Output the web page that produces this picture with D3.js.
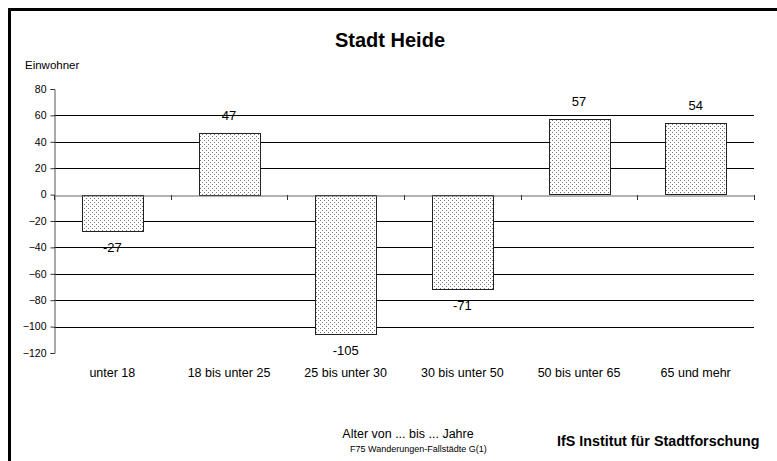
<!DOCTYPE html>
<html><head><meta charset="utf-8">
<script src="https://cdn.jsdelivr.net/npm/d3@7"></script>
<style>body{margin:0;background:#fff}svg{display:block;font-family:"Liberation Sans",Arial,sans-serif}</style>
</head><body>
<svg id="c" width="777" height="461"></svg>
<script>
const categories = ["unter 18","18 bis unter 25","25 bis unter 30","30 bis unter 50","50 bis unter 65","65 und mehr"];
const values = [-27, 47, -105, -71, 57, 54];
const yTicks = [80,60,40,20,0,-20,-40,-60,-80,-100,-120];
const gridValues = [60,40,20,-20,-40,-60,-80,-100];

const svg = d3.select("#c");
const defs = svg.append("defs");
const pat = defs.append("pattern").attr("id","dots").attr("patternUnits","userSpaceOnUse")
  .attr("width",4).attr("height",4);
pat.append("rect").attr("width",4).attr("height",4).attr("fill","#fff");
pat.append("rect").attr("x",0).attr("y",0).attr("width",1).attr("height",1).attr("fill","#777");
pat.append("rect").attr("x",2).attr("y",2).attr("width",1).attr("height",1).attr("fill","#777");

// frame
svg.append("path").attr("d","M9.5,780 V9.5 H790").attr("fill","none").attr("stroke","#000").attr("stroke-width",3);

const x = d3.scaleBand().domain(categories).range([54,754]).paddingInner(0.48).paddingOuter(0.24);
const xb = d3.scaleBand().domain(categories).range([54,754]);
const y = d3.scaleLinear().domain([-120,80]).range([353,89]);

// gridlines
svg.append("g").selectAll("line").data(gridValues).join("line")
  .attr("x1",54).attr("x2",754).attr("y1",d=>Math.round(y(d))+0.5).attr("y2",d=>Math.round(y(d))+0.5)
  .attr("stroke","#000").attr("stroke-width",1);

// y axis
const yAxis = d3.axisLeft(y).tickValues(yTicks).tickSize(4).tickPadding(4).tickFormat(d3.format("d"));
const gy = svg.append("g").attr("transform","translate(54.5,0)").call(yAxis);
gy.select(".domain").attr("stroke","#555");
gy.selectAll(".tick line").attr("stroke","#333");
gy.selectAll(".tick text").attr("font-size",10.5).attr("fill","#000").attr("font-family","Liberation Sans, Arial, sans-serif");

// bars
svg.append("g").selectAll("rect").data(values).join("rect")
  .attr("x",(d,i)=>Math.round(x(categories[i]))+0.5)
  .attr("width",Math.round(x.bandwidth()))
  .attr("y",d=>Math.round(y(Math.max(0,d)))+0.5)
  .attr("height",d=>Math.round(Math.abs(y(d)-y(0))))
  .attr("fill","url(#dots)").attr("stroke","#222").attr("stroke-width",1);

// x axis (zero line)
const xAxis = d3.axisBottom(xb).tickSize(0).tickFormat("");
const gx = svg.append("g").attr("transform",`translate(0,${Math.round(y(0))+0.5})`).call(xAxis);
gx.select(".domain").attr("stroke","#666");
svg.append("g").selectAll("line").data(d3.range(categories.length+1)).join("line")
  .attr("x1",i=>Math.round(54+i*xb.step())+0.5).attr("x2",i=>Math.round(54+i*xb.step())+0.5)
  .attr("y1",Math.round(y(0))).attr("y2",Math.round(y(0))+5).attr("stroke","#333");

// category labels
svg.append("g").selectAll("text").data(categories).join("text")
  .attr("x",d=>xb(d)+xb.bandwidth()/2).attr("y",377).attr("text-anchor","middle")
  .attr("font-size",12.5).text(d=>d);

// value labels
svg.append("g").selectAll("text").data(values).join("text")
  .attr("x",(d,i)=>x(categories[i])+x.bandwidth()/2)
  .attr("y",d=> d>=0 ? y(d)-13 : y(d)+22)
  .attr("text-anchor","middle").attr("font-size",13).text(d=>d);

// titles
svg.append("text").attr("x",390).attr("y",47).attr("text-anchor","middle")
  .attr("font-size",20).attr("font-weight","bold").text("Stadt Heide");
svg.append("text").attr("x",25).attr("y",69).attr("font-size",11.5).text("Einwohner");
svg.append("text").attr("x",408).attr("y",438).attr("text-anchor","middle").attr("font-size",12.5).text("Alter von ... bis ... Jahre");
svg.append("text").attr("x",350).attr("y",452).attr("font-size",9).text("F75 Wanderungen-Fallstädte  G(1)");
svg.append("text").attr("x",557).attr("y",446).attr("font-size",14.3).attr("font-weight","bold").text("IfS Institut für Stadtforschung");
</script>
</body></html>
